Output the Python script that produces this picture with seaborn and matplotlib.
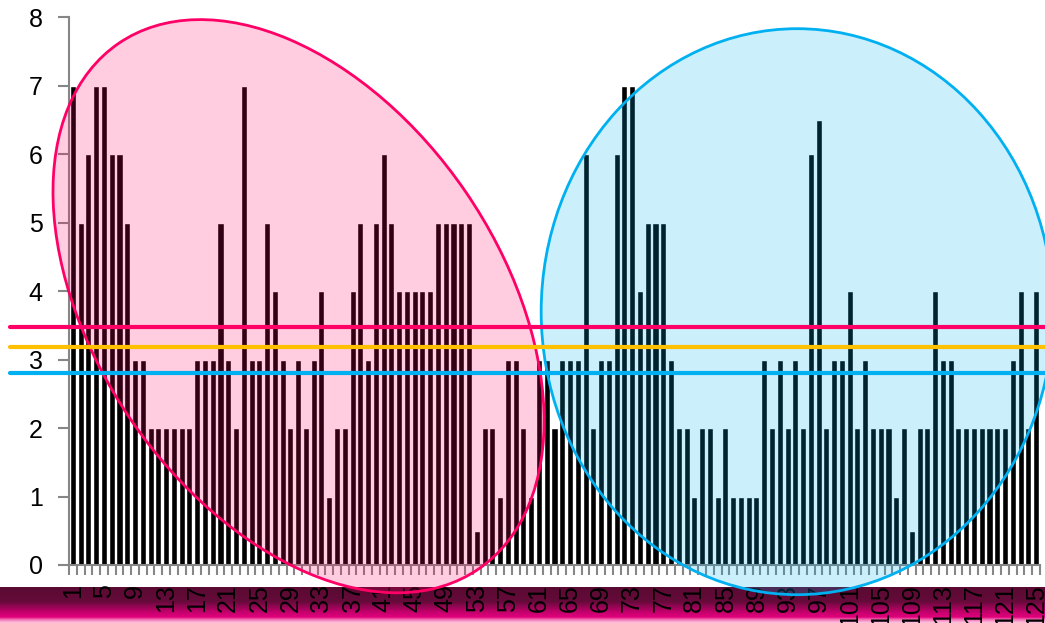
import matplotlib
matplotlib.use("Agg")
import matplotlib.pyplot as plt
import matplotlib.transforms as mtransforms
import numpy as np
import pandas as pd
import seaborn as sns
from matplotlib.colors import LinearSegmentedColormap, to_rgba
from matplotlib.patches import Ellipse


# one bar per day, 125 days
DAYS = list(range(1, 126))
VALUES = [
    7, 5, 6, 7, 7, 6, 6, 5, 3, 3,
    2, 2, 2, 2, 2, 2, 3, 3, 3, 5,
    3, 2, 7, 3, 3, 5, 4, 3, 2, 3,
    2, 3, 4, 1, 2, 2, 4, 5, 3, 5,
    6, 5, 4, 4, 4, 4, 4, 5, 5, 5,
    5, 5, 0.5, 2, 2, 1, 3, 3, 2, 1,
    3, 3, 2, 3, 3, 3, 6, 2, 3, 3,
    6, 7, 7, 4, 5, 5, 5, 3, 2, 2,
    1, 2, 2, 1, 2, 1, 1, 1, 1, 3,
    2, 3, 2, 3, 2, 6, 6.5, 2, 3, 3,
    4, 2, 3, 2, 2, 2, 1, 2, 0.5, 2,
    2, 4, 3, 3, 2, 2, 2, 2, 2, 2,
    2, 3, 4, 2, 4,
]
X_LABELS = list(range(1, 126, 4))
Y_TICKS = list(range(0, 9))

# reference levels drawn across the chart
PINK_LEVEL = 3.48
ALL_LEVEL = 3.18
BLUE_LEVEL = 2.8

PINK = "#FF0066"
GOLD = "#FFC000"
BLUE = "#00B0F0"
AXIS_GREY = "#868686"
FONT_SIZE = 18


def add_ring(ax, fig, center, width, height, angle, color):
    # ellipse sized in inches, anchored on a data point
    trans = fig.dpi_scale_trans + mtransforms.ScaledTranslation(center[0], center[1], ax.transData)
    ring = Ellipse((0, 0), width, height, angle=angle, transform=trans,
                   facecolor=to_rgba(color, 0.2), edgecolor=color, linewidth=2,
                   clip_on=False, zorder=3)
    ax.add_patch(ring)


def main() -> None:
    sns.set_style("white")
    plt.rcParams["font.family"] = ["Liberation Sans", "DejaVu Sans"]

    fig = plt.figure(figsize=(10.45, 6.23), dpi=100)

    # gradient strip along the bottom edge
    band = fig.add_axes([0, 0, 1, 36 / 623])
    band.set_axis_off()
    band_cmap = LinearSegmentedColormap.from_list(
        "band",
        [(0.0, "#5a0a32"), (0.4, "#650b3a"), (0.68, "#c0006a"),
         (0.84, "#e2007b"), (0.9, "#f06ab0"), (1.0, "#ffc6e3")],
    )
    band.imshow(np.linspace(0, 1, 120).reshape(-1, 1), aspect="auto",
                cmap=band_cmap, extent=[0, 1, 0, 1])

    ax = fig.add_axes([69 / 1045, 58 / 623, 971 / 1045, 547.7 / 623])
    ax.set_zorder(2)
    ax.patch.set_visible(False)

    df = pd.DataFrame({"day": DAYS, "value": VALUES})
    sns.barplot(data=df, x="day", y="value", color="black", saturation=1,
                width=0.78, ax=ax, zorder=2)

    ax.set_xlim(-0.5, len(DAYS) - 0.5)
    ax.set_ylim(0, 8)
    ax.set_xlabel("")
    ax.set_ylabel("")

    # tick marks between categories, labels on every fourth day
    ax.set_xticks(np.arange(len(DAYS) + 1) - 0.5, labels=[])
    ax.set_xticks([DAYS.index(d) for d in X_LABELS],
                  labels=[str(d) for d in X_LABELS], minor=True)
    ax.tick_params(axis="x", which="major", bottom=True, length=7, width=1.5,
                   color=AXIS_GREY, direction="out")
    ax.tick_params(axis="x", which="minor", bottom=True, length=0, pad=14,
                   labelsize=FONT_SIZE, labelrotation=90, labelcolor="black")
    ax.set_yticks(Y_TICKS)
    ax.tick_params(axis="y", left=True, length=8, width=1.5, color=AXIS_GREY,
                   direction="out", pad=11, labelsize=FONT_SIZE, labelcolor="black")

    for side in ["top", "right"]:
        ax.spines[side].set_visible(False)
    for side in ["left", "bottom"]:
        ax.spines[side].set_color(AXIS_GREY)
        ax.spines[side].set_linewidth(1.5)

    add_ring(ax, fig, (29.05, 3.78), 6.37, 4.05, 124.4, PINK)
    add_ring(ax, fig, (93.24, 3.70), 5.12, 5.66, 0, BLUE)

    for level, color in [(PINK_LEVEL, PINK), (ALL_LEVEL, GOLD), (BLUE_LEVEL, BLUE)]:
        ax.axhline(level, xmin=-0.061, xmax=1.01, color=color, linewidth=3,
                   clip_on=False, zorder=4)

    fig.savefig("out.png", dpi=100)
    plt.close(fig)


if __name__ == "__main__":
    main()
